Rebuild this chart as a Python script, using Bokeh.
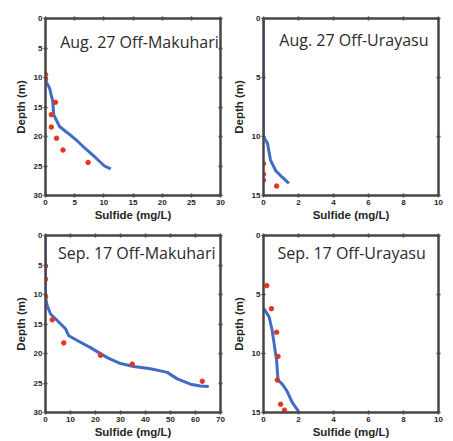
from bokeh.plotting import figure
from bokeh.layouts import gridplot
from bokeh.models import Range1d, LinearAxis, Label, FixedTicker
from bokeh.embed import file_html
from bokeh.resources import INLINE

# ---- data ----
titles = ["Aug. 27 Off-Makuhari", "Aug. 27 Off-Urayasu",
          "Sep. 17 Off-Makuhari", "Sep. 17 Off-Urayasu"]

x_max = [30, 10, 70, 10]
x_step = [5, 2, 10, 2]
y_max = [30, 15, 30, 15]

# Aug. 27 Off-Makuhari
am_line_x = [0.0, 0.1, 0.7, 1.25, 1.4, 2.4, 3.8, 5.5, 7.0, 8.6, 10.1, 11.2]
am_line_y = [10.4, 10.7, 11.8, 14.1, 16.3, 18.3, 19.4, 20.8, 22.2, 23.6, 25.0, 25.5]
am_obs_x = [0.0, 0.0, 1.7, 1.0, 1.0, 1.9, 3.0, 7.3]
am_obs_y = [9.5, 10.3, 14.2, 16.3, 18.4, 20.3, 22.3, 24.4]

# Aug. 27 Off-Urayasu
au_line_x = [0.0, 0.0, 0.23, 0.4, 0.7, 1.07, 1.45]
au_line_y = [0.0, 10.0, 10.6, 12.0, 12.9, 13.45, 13.97]
au_obs_x = [0.0, 0.0, 0.0, 0.75]
au_obs_y = [12.3, 13.2, 13.7, 14.2]

# Sep. 17 Off-Makuhari
sm_line_x = [0.0, 0.0, 0.7, 2.0, 4.7, 8.0, 9.3, 12.7, 18.0, 24.7, 30.0, 35.3,
             42.0, 48.7, 52.7, 58.0, 62.0, 65.3]
sm_line_y = [0.0, 10.5, 11.9, 13.3, 14.4, 15.8, 17.0, 17.8, 19.0, 20.7, 21.7, 22.2,
             22.6, 23.2, 24.3, 25.2, 25.5, 25.6]
sm_obs_x = [0.0, 0.0, 0.0, 2.7, 7.3, 22.0, 34.7, 62.7]
sm_obs_y = [5.2, 7.4, 10.4, 14.3, 18.2, 20.3, 21.8, 24.7]

# Sep. 17 Off-Urayasu
su_line_x = [0.0, 0.32, 0.5, 0.64, 0.75, 0.83, 1.07, 1.35, 1.64, 2.0]
su_line_y = [6.15, 6.9, 8.07, 9.5, 10.6, 12.25, 12.6, 13.2, 14.15, 14.9]
su_obs_x = [0.19, 0.45, 0.75, 0.83, 0.79, 0.98, 1.2]
su_obs_y = [4.25, 6.2, 8.2, 10.25, 12.25, 14.3, 14.8]

lines = [(am_line_x, am_line_y), (au_line_x, au_line_y),
         (sm_line_x, sm_line_y), (su_line_x, su_line_y)]
obs = [(am_obs_x, am_obs_y), (au_obs_x, au_obs_y),
       (sm_obs_x, sm_obs_y), (su_obs_x, su_obs_y)]

x_label = "Sulfide (mg/L)"
y_label = "Depth (m)"

# ---- style ----
FRAME = "#4a4444"
LINE = "#3f6cc4"
DOT = "#e8341f"
TICK_FONT = "Liberation Sans"
TITLE_FONT = "Open Sans"

# (width, height, left, right, top, bottom)
geoms = [
    (229, 227, 44, 9, 16, 32),
    (223, 227, 32, 14, 18, 32),
    (229, 213, 45, 9, 8, 28),
    (223, 213, 32, 14, 8, 28),
]
# title positions in data coords (right aligned, middle baseline)
title_pos = [(29.7, 4.0), (9.43, 1.86), (68.0, 3.05), (9.27, 1.5)]


def style_axis(ax, labels=True):
    ax.axis_line_color = FRAME
    ax.axis_line_width = 2
    ax.major_tick_line_color = FRAME
    ax.major_tick_line_width = 1.5
    ax.major_tick_in = 2
    ax.major_tick_out = 2
    ax.minor_tick_line_color = None
    ax.major_label_text_font = TICK_FONT
    ax.major_label_text_font_style = "bold"
    if labels:
        ax.major_label_text_font_size = "8px"
        ax.major_label_text_color = "#262626"
    else:
        ax.major_label_text_font_size = "1px"
        ax.major_label_text_color = None
        ax.major_label_standoff = 0


figs = []
for i in range(4):
    w, h, bl, br, bt, bb = geoms[i]
    p = figure(width=w, height=h, output_backend="svg", toolbar_location=None,
               x_range=Range1d(0, x_max[i]), y_range=Range1d(y_max[i], 0),
               min_border_left=bl, min_border_right=br,
               min_border_top=bt, min_border_bottom=bb)
    p.grid.visible = False
    p.outline_line_color = FRAME
    p.outline_line_width = 2
    p.background_fill_color = "white"
    p.border_fill_color = "white"

    xt = FixedTicker(ticks=list(range(0, x_max[i] + 1, x_step[i])))
    yt = FixedTicker(ticks=list(range(0, y_max[i] + 1, 5)))
    p.xaxis.ticker = xt
    p.yaxis.ticker = yt
    for ax in list(p.xaxis) + list(p.yaxis):
        style_axis(ax)
        ax.axis_label_text_font = TICK_FONT
        ax.axis_label_text_font_style = "bold"
        ax.axis_label_text_font_size = "11.5px"
        ax.axis_label_text_color = "#262626"
    p.xaxis.axis_label = x_label
    p.yaxis.axis_label = y_label
    p.xaxis.major_label_standoff = 2
    p.xaxis.axis_label_standoff = 1
    p.yaxis.major_label_standoff = 1
    p.yaxis.axis_label_standoff = 4

    top = LinearAxis(ticker=FixedTicker(ticks=xt.ticks))
    style_axis(top, labels=False)
    p.add_layout(top, "above")
    right = LinearAxis(ticker=FixedTicker(ticks=yt.ticks))
    style_axis(right, labels=False)
    p.add_layout(right, "right")

    lx, ly = lines[i]
    p.line(lx, ly, line_color=LINE, line_width=3)
    ox, oy = obs[i]
    p.scatter(ox, oy, marker="circle", size=4.5, fill_color=DOT, line_color=DOT)

    tx, ty = title_pos[i]
    p.add_layout(Label(x=tx, y=ty, text=titles[i], text_align="right",
                       text_baseline="middle", text_font=TITLE_FONT,
                       text_font_size="16px", text_color="#2b2b2b"))
    figs.append(p)

grid = gridplot([[figs[0], figs[1]], [figs[2], figs[3]]], toolbar_location=None)

open("out.html", "w").write(file_html(grid, INLINE))
